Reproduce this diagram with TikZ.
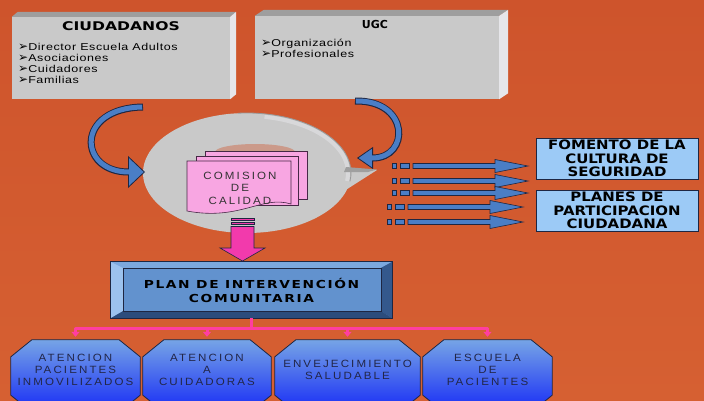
\documentclass[tikz,border=0pt]{standalone}
\usepackage{fontspec}
\setmainfont{Liberation Sans}
\newfontfamily\fTitle[FakeStretch=1.3]{DejaVu Sans}
\newfontfamily\fUGC{DejaVu Sans}
\newfontfamily\fBox[FakeStretch=1.15]{DejaVu Sans}
\newfontfamily\fPlan[FakeStretch=1.25,LetterSpace=15]{DejaVu Sans}
\newfontfamily\fItem[FakeStretch=1.25,LetterSpace=6]{Liberation Sans}
\newfontfamily\fSpaced[FakeStretch=1.1,LetterSpace=20]{Liberation Sans}
\newfontfamily\fSym{DejaVu Sans}
\usetikzlibrary{arrows.meta,calc}
\definecolor{bgtop}{RGB}{206,84,44}
\definecolor{bgbot}{RGB}{214,96,50}
\definecolor{boxgrey}{RGB}{201,201,201}
\definecolor{boxtop}{RGB}{158,158,158}
\definecolor{boxside}{RGB}{230,230,234}
\definecolor{rimgrey}{RGB}{216,216,218}
\definecolor{arrowblue}{RGB}{74,126,198}
\definecolor{darkline}{RGB}{30,38,66}
\definecolor{docpink}{RGB}{248,166,226}
\definecolor{pageline}{RGB}{70,40,70}
\definecolor{hotpink}{RGB}{242,58,172}
\definecolor{linkpink}{RGB}{255,62,160}
\definecolor{planface}{RGB}{98,146,206}
\definecolor{planlight}{RGB}{156,194,238}
\definecolor{plantop}{RGB}{124,168,222}
\definecolor{plandark}{RGB}{52,88,140}
\definecolor{planbot}{RGB}{44,76,124}
\definecolor{lightblue}{RGB}{156,202,246}
\definecolor{octtop}{RGB}{118,164,230}
\definecolor{octbot}{RGB}{22,42,246}
\definecolor{octtext}{RGB}{34,38,72}
\newcommand\bul{{\fSym\fontsize{12}{11}\selectfont ➢}}
\begin{document}
\begin{tikzpicture}[x=1pt,y=-1pt,
  greyface/.style={fill=boxgrey, draw=none, inner sep=0pt},
  docpage/.style={fill=docpink, draw=pageline, line width=.6pt},
  bluebox/.style={fill=lightblue, draw=darkline, line width=.6pt, inner sep=0pt,
    minimum width=162pt, minimum height=41pt, align=center, text=black,
    font=\fBox\bfseries\fontsize{13}{13.3}\selectfont},
  octnode/.style={inner sep=0pt, minimum height=60pt},
  octtxt/.style={align=center, text=octtext, inner sep=0pt,
    font=\fSpaced\fontsize{10.5}{12}\selectfont},
  pinklink/.style={draw=linkpink, line width=3pt},
  fatblue/.style={fill=arrowblue, draw=darkline, line width=.6pt},
  itemtxt/.style={anchor=north west, align=left, inner sep=0pt, text=black,
    font=\fItem\fontsize{10}{11}\selectfont},
]
\useasboundingbox (0,0) rectangle (704,400);
\clip (0,0) rectangle (704,400);
% background
\shade[top color=bgtop, bottom color=bgbot] (0,0) rectangle (704,400);

% CIUDADANOS box
\node[greyface, minimum width=218pt, minimum height=82pt] (ciu) at (121,58) {};
\fill[boxtop] (ciu.north west) -- ++(6,-5) -- ($(ciu.north east)+(6,-5)$) -- (ciu.north east) -- cycle;
\fill[boxside] (ciu.north east) -- ++(6,-5) -- ($(ciu.south east)+(6,-5)$) -- (ciu.south east) -- cycle;
\node[font=\fTitle\bfseries\fontsize{12}{13}\selectfont, text=black] (ciutitle) at (121,26) {CIUDADANOS};
\node[itemtxt] (ciuitems) at (18,43) {\bul Director Escuela Adultos\\\bul Asociaciones\\\bul Cuidadores\\\bul Familias};

% UGC box
\node[greyface, minimum width=244pt, minimum height=83pt] (ugc) at (377,57.5) {};
\fill[boxtop] (ugc.north west) -- ++(9,-6) -- ($(ugc.north east)+(9,-6)$) -- (ugc.north east) -- cycle;
\fill[boxside] (ugc.north east) -- ++(9,-6) -- ($(ugc.south east)+(9,-6)$) -- (ugc.south east) -- cycle;
\node[font=\fUGC\bfseries\fontsize{11}{12}\selectfont, text=black] (ugctitle) at (375,24) {UGC};
\node[itemtxt] (ugcitems) at (261,39) {\bul Organización\\\bul Profesionales};

% speech bubble
\fill[boxgrey] (247,173) ellipse [x radius=104pt, y radius=60pt];
\fill[boxgrey] (333,155) -- (348,169) -- (377,170) -- (330,200) -- cycle;
\draw[rimgrey, line width=4pt] (247,173) ++(80:101pt and 57pt) arc[start angle=80, end angle=-8, x radius=101pt, y radius=57pt];
\draw[gray!80, line width=.8pt] (247,173) ++(95:104pt and 60pt) arc[start angle=95, end angle=-8, x radius=104pt, y radius=60pt];
\fill[gray!75] (346,167) -- (377,169.5) -- (368,172) -- (344,172) -- cycle;
\fill[bgtop, opacity=.4] (255,152) ellipse [x radius=40pt, y radius=8pt];

% pages
\filldraw[docpage] (205,151) rectangle (307,199);
\filldraw[docpage] (196,156) rectangle (298,205);
\filldraw[docpage] (187,161) -- (291,161) -- (291,204) .. controls (262,195) and (240,221) .. (187,211) -- cycle;
\node[align=center, text=black!80, inner sep=0pt, font=\fSpaced\fontsize{10.5}{12.5}\selectfont] (comision) at (240,188) {COMISION\\DE\\CALIDAD};

% curved arrows
\coordinate (c1s) at (143,107);
\coordinate (c1e) at (145,172);
\draw[darkline, line width=7pt, -{Triangle[length=17pt,width=32pt,fill=arrowblue,line width=.8pt]}] (c1s) .. controls (75,108) and (78,172) .. (c1e);
\draw[arrowblue, line width=5pt, shorten >=16pt, shorten <=.8pt] (c1s) .. controls (75,108) and (78,172) .. (c1e);
\coordinate (c2s) at (355,101);
\coordinate (c2e) at (357,158);
\draw[darkline, line width=7pt, -{Triangle[length=16pt,width=22pt,fill=arrowblue,line width=.8pt]}] (c2s) .. controls (410,100) and (410,158) .. (c2e);
\draw[arrowblue, line width=5pt, shorten >=15pt, shorten <=.8pt] (c2s) .. controls (410,100) and (410,158) .. (c2e);

% pink fat arrow
\filldraw[fill=hotpink, draw=darkline, line width=.6pt] (231,218) rectangle (254,220.5);
\filldraw[fill=hotpink, draw=darkline, line width=.6pt] (231,222.5) rectangle (254,224.5);
\filldraw[fill=hotpink, draw=darkline, line width=.6pt] (231,226.5) -- (254,226.5) -- (254,248) -- (265,248) -- (242.5,261) -- (220,248) -- (231,248) -- cycle;

% plan box
\node[fill=planface, draw=none, inner sep=0pt, minimum width=281pt, minimum height=56pt] (plan) at (251.5,290) {};
\coordinate (pa) at ($(plan.north west)+(12,6)$);
\coordinate (pb) at ($(plan.north east)+(-11,6)$);
\coordinate (pc) at ($(plan.south east)+(-11,-7)$);
\coordinate (pd) at ($(plan.south west)+(12,-7)$);
\fill[plantop] (plan.north west) -- (plan.north east) -- (pb) -- (pa) -- cycle;
\fill[planlight] (plan.north west) -- (pa) -- (pd) -- (plan.south west) -- cycle;
\fill[plandark] (plan.north east) -- (plan.south east) -- (pc) -- (pb) -- cycle;
\fill[planbot] (plan.south west) -- (plan.south east) -- (pc) -- (pd) -- cycle;
\draw[darkline, line width=.5pt] (pa) rectangle (pc);
\draw[darkline, line width=.8pt] (plan.north west) rectangle (plan.south east);
\node[align=center, text=black, inner sep=0pt, font=\fPlan\bfseries\fontsize{11}{14}\selectfont] (plantitle) at (plan) {PLAN DE INTERVENCIÓN\\COMUNITARIA};

% right boxes
\node[bluebox] (fomento) at (617,158.5) {FOMENTO DE LA\\CULTURA DE\\SEGURIDAD};
\node[bluebox] (planes) at (617,210.5) {PLANES DE\\PARTICIPACION\\CIUDADANA};

% fat right arrows
\foreach \yy/\ss in {166/0,181/0,193/0,207/-5,222/-5} {
  \begin{scope}[shift={(\ss,\yy)}]
    \filldraw[fatblue] (392,-2.5) rectangle (396,2.5);
    \filldraw[fatblue] (400,-2.5) rectangle (409,2.5);
    \filldraw[fatblue] (413,-2.5) -- (495,-2.5) -- (495,-6.5) -- (528,0) -- (495,6.5) -- (495,2.5) -- (413,2.5) -- cycle;
  \end{scope}
}

% octagons
\newcommand\octpath[1]{%
  \path[draw=darkline, line width=.8pt, top color=octtop, bottom color=octbot]
    ($(#1.north west)+(21,0)$) -- ($(#1.north east)+(-21,0)$) -- ($(#1.north east)+(0,17)$)
    -- ($(#1.south east)+(0,-5)$) -- ($(#1.south east)+(-21,12)$) -- ($(#1.south west)+(21,12)$)
    -- ($(#1.south west)+(0,-5)$) -- ($(#1.north west)+(0,17)$) -- cycle;}
\node[octnode, minimum width=129pt] (o1) at (75.5,370) {};
\node[octnode, minimum width=128pt] (o2) at (207,370) {};
\node[octnode, minimum width=145pt] (o3) at (347.5,370) {};
\node[octnode, minimum width=129pt] (o4) at (487.5,370) {};
\octpath{o1}\octpath{o2}\octpath{o3}\octpath{o4}
\node[octtxt] (t1) at (o1) {ATENCION\\PACIENTES\\INMOVILIZADOS};
\node[octtxt] (t2) at (o2) {ATENCION\\A\\CUIDADORAS};
\node[octtxt] (t3) at (o3) {ENVEJECIMIENTO\\SALUDABLE};
\node[octtxt] (t4) at (o4) {ESCUELA\\DE\\PACIENTES};

% pink connectors
\coordinate (bus) at (251.5,328);
\draw[pinklink] (plan.south) -- (bus);
\draw[pinklink, line cap=round] (o1.north |- bus) -- (o4.north |- bus);
\foreach \o in {o1,o2,o3,o4}
  \draw[pinklink, -{Triangle[length=5pt,width=8pt]}] (\o.north |- bus) -- ([yshift=3pt]\o.north);
\end{tikzpicture}
\end{document}
